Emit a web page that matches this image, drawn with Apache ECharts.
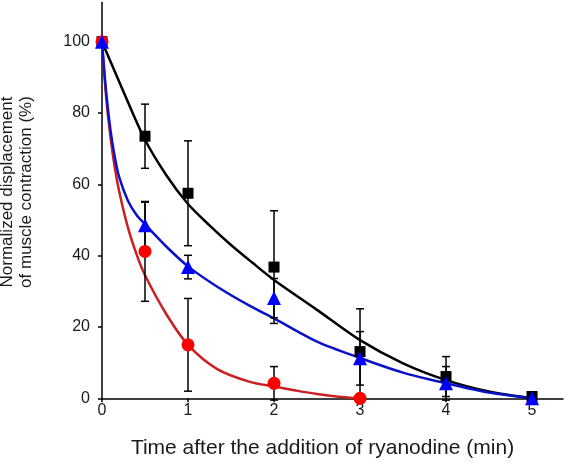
<!DOCTYPE html>
<html><head><meta charset="utf-8">
<script src="https://cdn.jsdelivr.net/npm/echarts@6/dist/echarts.min.js"></script>
<style>html,body{margin:0;padding:0;background:#fff}#c{width:566px;height:465px}</style>
</head><body><div id="c"></div>
<script>
// ---- data ----
const xTicks = [0, 1, 2, 3, 4, 5];
const yTicks = [0, 20, 40, 60, 80, 100];

const timeBlackBlue = [0, 0.5, 1, 2, 3, 4, 5];
const blackMean = [100, 73.5, 57.5, 36.8, 13.1, 6.1, 0.5];
const blackErr  = [0, 9, 14.7, 15.8, 12, 5.6, 0];
const blueMean  = [100, 48.5, 36.8, 28.1, 11.2, 4.2, 0];
const blueErr   = [0, 6.5, 3.3, 5.5, 7.5, 4.7, 0];
const timeRed   = [0, 0.5, 1, 2, 3];
const redMean   = [100, 41.2, 15, 4.2, 0];
const redErr    = [0, 14, 13, 4.7, 0];

// fitted curves
const blackCurveX = [0, 0.25, 0.5, 0.75, 1, 1.25, 1.5, 1.75, 2, 2.5, 3, 3.5, 4, 4.5, 5];
const blackCurveY = [100, 86, 72.5, 62.5, 54.5, 48.5, 43, 38, 33.2, 24.8, 16.3, 9.8, 5.1, 1.9, 0];
const blueCurveX  = [0, 0.05, 0.1, 0.15, 0.2, 0.3, 0.4, 0.5, 0.75, 1, 1.34, 1.72, 2, 2.5, 3, 3.5, 4, 4.5, 5];
const blueCurveY  = [100, 85.5, 75, 67.5, 62, 55.5, 51.5, 48.8, 42.5, 37, 31.3, 25.9, 22.4, 15.9, 11.3, 7.2, 4.2, 1.6, 0];
const redCurveX   = [0, 0.05, 0.1, 0.15, 0.2, 0.3, 0.4, 0.5, 0.75, 1, 1.34, 1.72, 2, 2.25, 2.5, 2.75, 3];
const redCurveY   = [100, 84, 73, 64.5, 58, 48, 40.5, 34.5, 23.5, 15, 8.2, 4.6, 3.3, 2.2, 1.2, 0.45, 0];

const zip = (xs, ys) => xs.map((x, i) => [x, ys[i]]);
const errData = (xs, m, e) => xs.map((x, i) => [x, m[i] - e[i], m[i] + e[i]]).filter((d, i) => e[i] > 0);

function errSeries(data) {
  return {
    type: 'custom', z: 3, silent: true,
    data: data,
    renderItem: function (params, api) {
      const x = api.value(0);
      const lo = api.coord([x, api.value(1)]);
      const hi = api.coord([x, api.value(2)]);
      const w = 4;
      const st = { stroke: '#000', lineWidth: 1.5 };
      return { type: 'group', children: [
        { type: 'line', shape: { x1: lo[0], y1: lo[1], x2: hi[0], y2: hi[1] }, style: st },
        { type: 'line', shape: { x1: lo[0] - w, y1: lo[1], x2: lo[0] + w, y2: lo[1] }, style: st },
        { type: 'line', shape: { x1: hi[0] - w, y1: hi[1], x2: hi[0] + w, y2: hi[1] }, style: st }
      ]};
    }
  };
}

function curve(name, xs, ys, color, z) {
  return { name: name, type: 'line', data: zip(xs, ys), smooth: 0.3,
    symbol: 'none', z: z, lineStyle: { color: color, width: 2.5 }, silent: true };
}
function pts(name, xs, ys, symbol, size, color, z) {
  return { name: name, type: 'scatter', data: zip(xs, ys), symbol: symbol, symbolSize: size,
    z: z, itemStyle: { color: color, opacity: 1 }, silent: true };
}

const chart = echarts.init(document.getElementById('c'), null, { renderer: 'canvas' });
chart.setOption({
  backgroundColor: '#fff',
  animation: false,
  grid: { left: 102, right: 3, top: 2.5, bottom: 66.7, containLabel: false },
  xAxis: {
    type: 'value', min: 0, max: 5.36,
    axisLine: { show: true, onZero: false, lineStyle: { color: '#000', width: 1.5 } },
    axisTick: { show: true, inside: false, length: 4, customValues: xTicks, lineStyle: { color: '#000', width: 1.5 } },
    axisLabel: { customValues: xTicks, margin: 4, fontFamily: 'Liberation Sans, Arial', fontSize: 16, color: '#1a1a1a' },
    splitLine: { show: false }
  },
  yAxis: {
    type: 'value', min: 0, max: 111,
    axisLine: { show: true, onZero: false, lineStyle: { color: '#000', width: 1.5 } },
    axisTick: { show: true, inside: false, length: 4, customValues: yTicks, lineStyle: { color: '#000', width: 1.5 } },
    axisLabel: { customValues: yTicks, margin: 12, fontFamily: 'Liberation Sans, Arial', fontSize: 16, color: '#1a1a1a' },
    splitLine: { show: false }
  },
  graphic: [
    { type: 'text', x: 322.5, y: 448, z: 10,
      style: { text: 'Time after the addition of ryanodine (min)', font: '21px "Liberation Sans", Arial',
        fill: '#1a1a1a', textAlign: 'center', textVerticalAlign: 'middle' } },
    { type: 'text', x: 17, y: 192, rotation: Math.PI / 2, z: 10,
      style: { text: 'Normalized displacement\nof muscle contraction (%)', font: '17px "Liberation Sans", Arial',
        lineHeight: 19, fill: '#1a1a1a', textAlign: 'center', textVerticalAlign: 'middle' } }
  ],
  series: [
    curve('black fit', blackCurveX, blackCurveY, '#000000', 2),
    curve('red fit', redCurveX, redCurveY, '#cc1f1f', 2),
    curve('blue fit', blueCurveX, blueCurveY, '#0a12c8', 2),
    errSeries(errData(timeBlackBlue, blackMean, blackErr)),
    errSeries(errData(timeBlackBlue, blueMean, blueErr)),
    errSeries(errData(timeRed, redMean, redErr)),
    pts('black', timeBlackBlue, blackMean, 'rect', 11, '#000000', 4),
    pts('red', timeRed, redMean, 'circle', 13, '#ff0000', 5),
    pts('blue', timeBlackBlue, blueMean, 'triangle', 14, '#0000ff', 6)
  ]
});
</script></body></html>
